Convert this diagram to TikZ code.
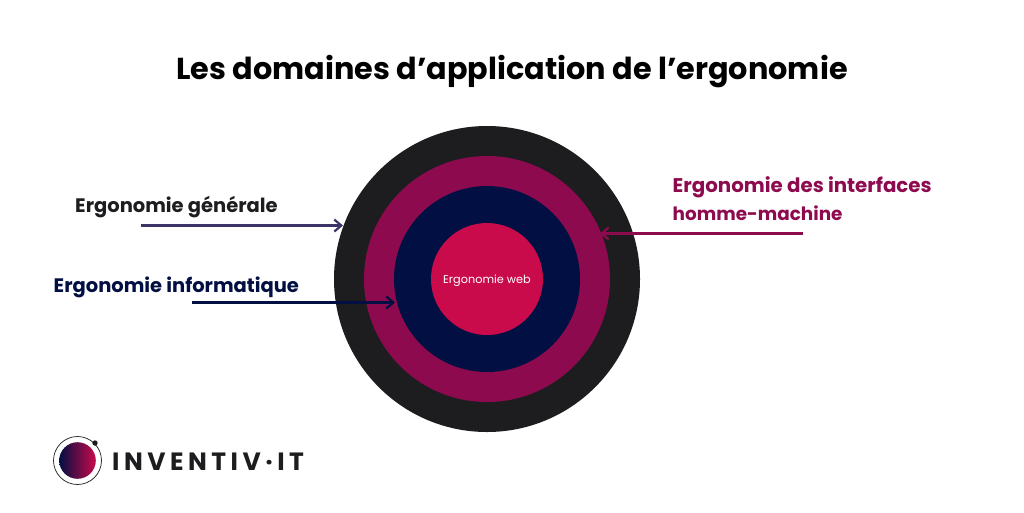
\documentclass[tikz,border=0pt]{standalone}
\usepackage{fontspec}
\setmainfont{Poppins}
\usetikzlibrary{arrows.meta,calc}
\definecolor{ink}{HTML}{1D1D20}
\definecolor{wine}{HTML}{8E0A4E}
\definecolor{navy}{HTML}{020F42}
\definecolor{crimson}{HTML}{C90A4B}
\definecolor{slateblue}{HTML}{3C3466}
\tikzset{
  ring/.style={circle,inner sep=0pt,minimum size=#1},
  lab/.style={inner sep=0pt,anchor=base west,font=\bfseries\fontsize{19.5}{19.5}\selectfont},
  conn/.style={line width=3pt,-{Straight Barb[length=7pt,width=12pt,line width=2.2pt]}},
}
\begin{document}
\begin{tikzpicture}[x=1pt,y=-1pt]
\useasboundingbox (0,0) rectangle (1024,512);
\fill[white] (0,0) rectangle (1024,512);
\node[inner sep=0pt,font=\bfseries\fontsize{30.3}{30}\selectfont,text=black] (title) at (512,72) {Les domaines d’application de l’ergonomie};
\node[ring=306pt,fill=ink] (c1) at (487,279) {};
\node[ring=246pt,fill=wine] (c2) at (487,279) {};
\node[ring=186pt,fill=navy] (c3) at (487,279) {};
\node[ring=112pt,fill=crimson] (c4) at (487,279) {};
\node[inner sep=0pt,text=white,font=\fontsize{11.3}{12}\selectfont] (c4t) at (487,280.5) {Ergonomie web};
\node[lab,text=ink] (l1) at (75,212.5) {Ergonomie générale};
\node[lab,text=navy] (l2) at (53.5,292.5) {Ergonomie informatique};
\node[lab,text=wine,font=\bfseries\fontsize{19.8}{19.8}\selectfont] (l3) at (672.5,192) {Ergonomie des interfaces};
\node[lab,text=wine,font=\bfseries\fontsize{18.4}{19}\selectfont] (l4) at (672.5,220) {homme-machine};
\coordinate (a1s) at (141,225.5); \coordinate (a1e) at (343,225.5);
\coordinate (a2s) at (192,302.5); \coordinate (a2e) at (395,302.5);
\coordinate (a3s) at (803,233.5); \coordinate (a3e) at (600,233.5);
\draw[conn,slateblue] (a1s) -- (a1e);
\draw[conn,navy] (a2s) -- (a2e);
\draw[conn,wine] (a3s) -- (a3e);
% logo
\draw[ink,line width=0.7pt] (77.5,460.5) circle (24);
\shade[left color=navy,right color=crimson] (77.5,460.5) circle (18.3);
\fill[ink] (95,443) circle (2.7);
\node[inner sep=0pt,anchor=base west,text=ink,font=\bfseries\fontsize{25}{25}\selectfont] (logo) at (112,470) {\addfontfeature{LetterSpace=18}INVENTIV·IT};
\end{tikzpicture}
\end{document}
